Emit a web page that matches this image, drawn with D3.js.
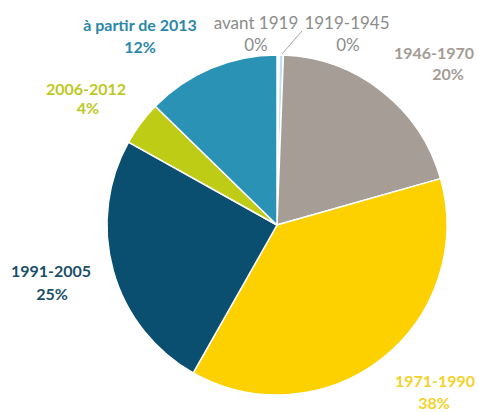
<!DOCTYPE html>
<html>
<head>
<meta charset="utf-8">
<script src="https://cdn.jsdelivr.net/npm/d3@7"></script>
<style>
  body { margin: 0; background: #fff; }
  svg { display: block; }
  text { font-family: Lato, "Open Sans", sans-serif; }
</style>
</head>
<body>
<div id="chart"></div>
<script>
// periods de construction, part en %
var categories = ['avant 1919', '1919-1945', '1946-1970', '1971-1990', '1991-2005', '2006-2012', 'à partir de 2013'];
var values = [0.2, 0.4, 20.0, 37.6, 24.9, 4.2, 12.7];
var pctLabels = ['0%', '0%', '20%', '38%', '25%', '4%', '12%'];

var sliceColors = ['#e6f1f6', '#bfe0ee', '#a69e96', '#fdd000', '#0b4f70', '#bfcc16', '#2a93b5'];
var labelColors = ['#8c8c8c', '#8c8c8c', '#a49c94', '#f3d22a', '#1b4f68', '#bdca24', '#2b88a8'];
var labelBold = [false, false, true, true, true, true, true];
// label anchor (centre x, baseline of first line)
var labelPos = [[256, 29], [347, 29], [434, 59], [435, 387], [51, 277], [86, 95], [140, 31]];
var pctPos = [[256, 51], [348, 51], [448, 80], [434, 409], [52, 300], [88, 114], [140, 53]];

var width = 478, height = 412;
var cx = 277, cy = 225, radius = 170;

var svg = d3.select('#chart')
	.append('svg')
	.attr('width', width)
	.attr('height', height);

var pie = d3.pie()
	.sort(null)
	.value(function(d) { return d; });

var arc = d3.arc()
	.innerRadius(0)
	.outerRadius(radius);

var g = svg.append('g')
	.attr('transform', 'translate(' + cx + ',' + cy + ')');

g.selectAll('path')
	.data(pie(values))
	.enter()
	.append('path')
	.attr('d', arc)
	.style('fill', function(d, i) { return sliceColors[i]; })
	.style('stroke', '#fff')
	.style('stroke-width', 1.5);

// leader line for 1919-1945
svg.append('line')
	.attr('x1', 302).attr('y1', 31)
	.attr('x2', 282).attr('y2', 54)
	.style('stroke', '#a6a6a6')
	.style('stroke-width', 1);

var labels = svg.append('g');
categories.forEach(function(c, i) {
	var size = labelBold[i] ? '16px' : '17px';
	labels.append('text')
		.attr('x', labelPos[i][0])
		.attr('y', labelPos[i][1])
		.attr('text-anchor', 'middle')
		.style('font-size', size)
		.style('font-weight', labelBold[i] ? 'bold' : 'normal')
		.style('fill', labelColors[i])
		.text(c);
	labels.append('text')
		.attr('x', pctPos[i][0])
		.attr('y', pctPos[i][1])
		.attr('text-anchor', 'middle')
		.style('font-size', size)
		.style('font-weight', labelBold[i] ? 'bold' : 'normal')
		.style('fill', labelColors[i])
		.text(pctLabels[i]);
});
</script>
</body>
</html>
